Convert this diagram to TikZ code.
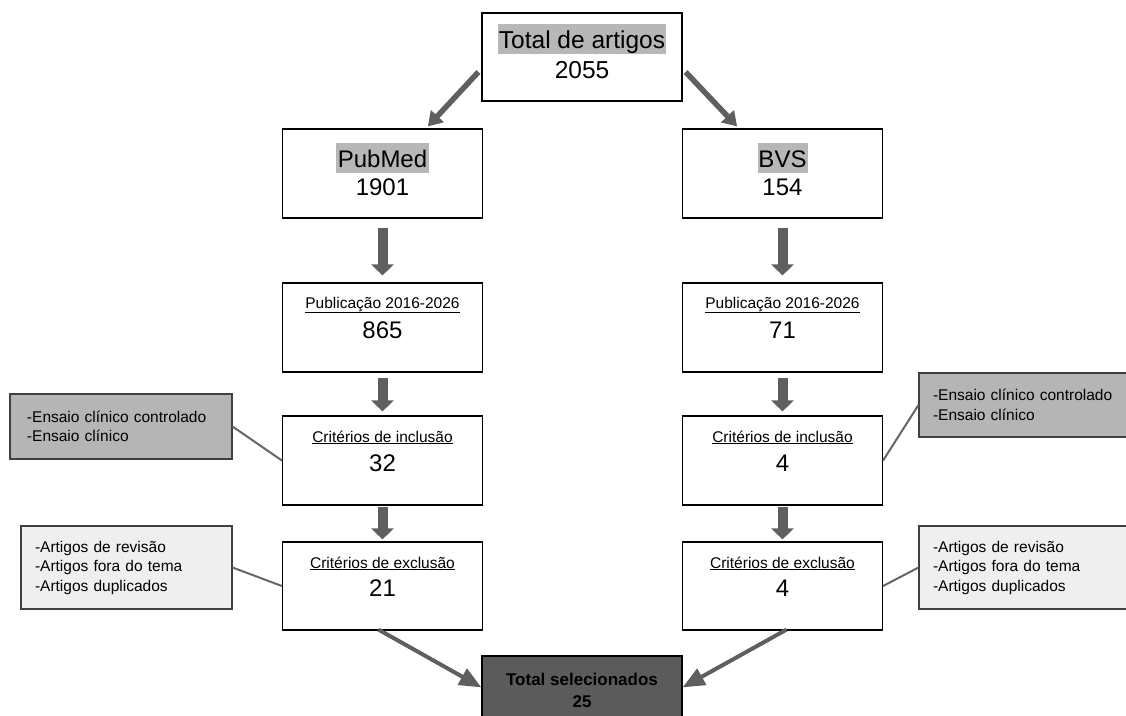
\documentclass[tikz,border=0pt]{standalone}
\usepackage{fontspec}
\setmainfont{Liberation Sans}
\usetikzlibrary{arrows.meta,calc}
\definecolor{hl}{HTML}{B7B7B7}
\definecolor{sidegray}{HTML}{B5B5B5}
\definecolor{sidelight}{HTML}{EFEFEF}
\definecolor{arr}{HTML}{5F5F5F}
\definecolor{finalfill}{HTML}{5B5B5B}
\definecolor{linkc}{HTML}{666666}
\begin{document}
\begin{tikzpicture}[x=1pt,y=-1pt,
  mainbox/.style={draw=black, line width=1.2pt, minimum width=200pt, inner sep=0pt, fill=white},
  bigtxt/.style={anchor=base, inner sep=0pt, font=\fontsize{24}{28}\selectfont},
  smalltxt/.style={anchor=base, inner sep=0pt, font=\fontsize{15.5}{19}\selectfont},
  hltxt/.style={anchor=base, fill=hl, inner ysep=2pt, text height=22pt, text depth=4pt},
  sidebox/.style={draw=black!75, line width=1.1pt, align=left, inner ysep=0pt, font=\fontsize{15.5}{19.5}\selectfont},
  fatarrow/.style={draw=arr, line width=10pt, -{Triangle[width=22pt,length=11pt]}},
  diagarrow/.style={draw=arr, line width=5.5pt, -{Triangle[width=17pt,length=14pt]}},
  botarrow/.style={draw=arr, line width=4pt, -{Triangle[width=18pt,length=22pt]}},
  link/.style={draw=linkc, line width=2pt}
]
\clip (0,0) rectangle (1126,715);
\fill[white] (0,0) rectangle (1126,715);

% main boxes
\node[mainbox, minimum height=88pt] (top) at (582,57) {};
\node[mainbox, minimum height=89pt] (pub) at (382.5,173.5) {};
\node[mainbox, minimum height=89pt] (bvs) at (782.5,173.5) {};
\node[mainbox, minimum height=89pt] (pubY) at (382.5,327.5) {};
\node[mainbox, minimum height=89pt] (bvsY) at (782.5,327.5) {};
\node[mainbox, minimum height=89pt] (pubI) at (382.5,460.5) {};
\node[mainbox, minimum height=89pt] (bvsI) at (782.5,460.5) {};
\node[mainbox, minimum height=88pt] (pubE) at (382.5,586) {};
\node[mainbox, minimum height=88pt] (bvsE) at (782.5,586) {};
\node[mainbox, fill=finalfill, minimum height=100pt] (fin) at (582,706) {};

% texts in main boxes
\node[bigtxt, hltxt, inner xsep=0.5pt, font=\fontsize{24.5}{28}\selectfont] (t1) at (582,48) {Total de artigos};
\node[bigtxt, font=\fontsize{24.5}{28}\selectfont] (t2) at (582,78) {2055};
\node[bigtxt, hltxt, inner xsep=2pt] (p1) at (382.5,167) {PubMed};
\node[bigtxt] (p2) at (382.5,195) {1901};
\node[bigtxt, hltxt, inner xsep=1pt] (b1) at (782.5,167) {BVS};
\node[bigtxt] (b2) at (782.5,195) {154};
\node[smalltxt] (py1) at (382.5,308) {\underline{Publicação 2016-2026}};
\node[bigtxt] (py2) at (382.5,338) {865};
\node[smalltxt] (by1) at (782.5,308) {\underline{Publicação 2016-2026}};
\node[bigtxt] (by2) at (782.5,338) {71};
\node[smalltxt] (pi1) at (382.5,442) {\underline{Critérios de inclusão}};
\node[bigtxt] (pi2) at (382.5,471) {32};
\node[smalltxt] (bi1) at (782.5,442) {\underline{Critérios de inclusão}};
\node[bigtxt] (bi2) at (782.5,471) {4};
\node[smalltxt] (pe1) at (382.5,568) {\underline{Critérios de exclusão}};
\node[bigtxt] (pe2) at (382.5,596) {21};
\node[smalltxt] (be1) at (782.5,568) {\underline{Critérios de exclusão}};
\node[bigtxt] (be2) at (782.5,596) {4};
\node[anchor=base, inner sep=0pt, font=\bfseries\fontsize{17}{20}\selectfont] (f1) at (582,685) {Total selecionados};
\node[anchor=base, inner sep=0pt, font=\bfseries\fontsize{17}{20}\selectfont] (f2) at (582,707) {25};

% side boxes
\node[sidebox, fill=sidegray, text width=188pt, inner xsep=17pt, minimum height=65pt] (gL) at (121,426.5) {-Ensaio clínico controlado\\-Ensaio clínico};
\node[sidebox, fill=sidegray, text width=188pt, inner xsep=14pt, minimum height=64pt] (gR) at (1027,405) {-Ensaio clínico controlado\\-Ensaio clínico};
\node[sidebox, fill=sidelight, text width=183pt, inner xsep=14pt, minimum height=83pt] (lL) at (126.5,567.5) {-Artigos de revisão\\-Artigos fora do tema\\-Artigos duplicados};
\node[sidebox, fill=sidelight, text width=188pt, inner xsep=14pt, minimum height=83pt] (lR) at (1027,567.5) {-Artigos de revisão\\-Artigos fora do tema\\-Artigos duplicados};

% links
\draw[link] (gL.east) -- (pubI.west);
\draw[link] (bvsI.east) -- (gR.west);
\draw[link] (lL.east) -- (pubE.west);
\draw[link] (bvsE.east) -- (lR.west);

% arrows
\draw[diagarrow] ([shift={(-3,15)}]top.west) -- ([shift={(146,-2)}]pub.north west);
\draw[diagarrow] ([shift={(3,15)}]top.east) -- ([shift={(-146,-2)}]bvs.north east);
\draw[fatarrow, shorten <=9pt, shorten >=7pt] (pub.south) -- (pubY.north);
\draw[fatarrow, shorten <=9pt, shorten >=7pt] (bvs.south) -- (bvsY.north);
\draw[fatarrow, shorten <=5pt, shorten >=4pt] (pubY.south) -- (pubI.north);
\draw[fatarrow, shorten <=5pt, shorten >=4pt] (bvsY.south) -- (bvsI.north);
\draw[fatarrow, shorten <=1pt, shorten >=2pt] (pubI.south) -- (pubE.north);
\draw[fatarrow, shorten <=1pt, shorten >=2pt] (bvsI.south) -- (bvsE.north);
\draw[botarrow] ([shift={(-4,-1)}]pubE.south) -- ([shift={(0,32)}]fin.north west);
\draw[botarrow] ([shift={(4,-1)}]bvsE.south) -- ([shift={(0,32)}]fin.north east);
\end{tikzpicture}
\end{document}
